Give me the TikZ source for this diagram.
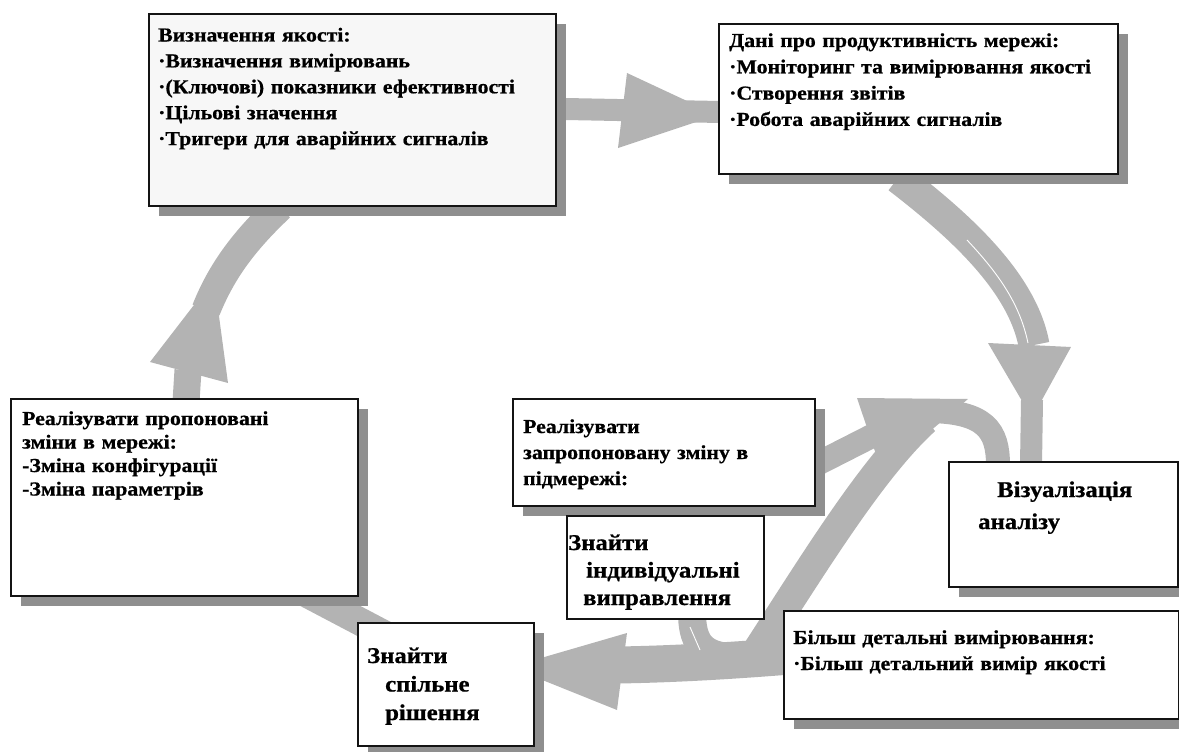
\documentclass[tikz,border=0pt]{standalone}
\usepackage{fontspec}
\newfontfamily\lblfont[FakeStretch=1.1, FakeBold=0.7]{Liberation Serif}
\usetikzlibrary{shadows}
\definecolor{band}{HTML}{B3B3B3}
\definecolor{shade}{HTML}{8F8F8F}
\definecolor{paper}{HTML}{F7F7F7}
\definecolor{ink}{HTML}{141414}

\begin{document}
\begin{tikzpicture}[x=1pt,y=-1pt,
  panel/.style={draw=ink, line width=1.8pt, fill=white, inner sep=0pt, anchor=north west},
  shadowed/.style={drop shadow={shadow xshift=10pt, shadow yshift=-10pt, fill=shade, opacity=1}},
  boxtext/.style={anchor=base west, inner sep=0pt, align=left, text width=420pt},
  linegap/.style={font=\fontsize{19.8}{#1}\lblfont\bfseries},
  biggap/.style={font=\fontsize{22.5}{#1}\lblfont\bfseries},
  flow/.style={draw=band, line width=#1, line cap=butt},
  headfill/.style={fill=band, draw=none},
  seam/.style={draw=white, line width=0.9pt},
]
\useasboundingbox (0,0) rectangle (1179,752);

% ---- broad grey flow bands (drawn first, boxes cover their ends) ----
% quality definition -> performance data
\draw[flow=22] (540,108.5) -- (720,112);
\fill[headfill] (627,73) -- (717,115) -- (618,148) -- cycle;
% performance data -> visual analysis
\draw[flow=31] (898,178) .. controls (955,222) and (1022,280) .. (1034,345);
\draw[seam] (967,240) .. controls (1000,275) and (1020,305) .. (1028,343);
\fill[headfill] (988,343) -- (1071,347) -- (1032,418) -- cycle;
\draw[flow=22] (1032,400) -- (1031,465);
% inner loop: visual analysis -> down to the bottom band
\draw[flow=30] (925,420) .. controls (870,470) and (810,570) .. (750,662);
% subnetwork change -> visual analysis
\draw[flow=24] (815,465) -- (872,436);
\fill[headfill] (857,398) -- (882,472) -- (968,399) -- cycle;
\draw[flow=24] (930,411) .. controls (985,412) and (998,430) .. (998,465);
% detailed measurements -> common solution
\draw[flow=37] (618,665) .. controls (680,664) and (740,660) .. (790,656);
\fill[headfill] (627,633) -- (510,667) -- (617,710) -- cycle;
% branch up to individual corrections
\draw[flow=28] (692,612) .. controls (692,640) and (700,655) .. (730,657);
\draw[seam] (690,627) -- (700,650);
% common solution -> network changes
\draw[flow=28] (395,640) -- (300,590);
% network changes -> quality definition
\draw[flow=27] (186,402) -- (188,370);
\fill[headfill] (150,362) -- (214,279) -- (228,383) -- cycle;
\draw[flow=29] (206,310) .. controls (222,270) and (245,240) .. (280,207);

% ---- boxes ----
\node[panel, shadowed, fill=paper, minimum width=407pt, minimum height=192pt] (quality) at (148,13) {};
\node[panel, shadowed, minimum width=399pt, minimum height=150pt] (perf) at (718,23) {};
\node[panel, shadowed, minimum width=347pt, minimum height=197pt] (netchange) at (10,398) {};
\node[panel, shadowed, minimum width=302pt, minimum height=107pt] (subchange) at (512,398) {};
\node[panel, minimum width=197pt, minimum height=103pt] (indiv) at (566,515) {};
\node[panel, shadowed, minimum width=229pt, minimum height=125pt] (visual) at (948,461) {};
\node[panel, shadowed, minimum width=395pt, minimum height=108pt] (detail) at (783,610) {};
\node[panel, shadowed, minimum width=176pt, minimum height=123pt] (common) at (357,622) {};

% ---- texts ----
\node[boxtext, linegap=25.9] (quality-t) at (158,41.5)
  {Визначення якості:\\·Визначення вимірювань\\·(Ключові) показники ефективності\\·Цільові значення\\·Тригери для аварійних сигналів};
\node[boxtext, linegap=26.3] (perf-t) at (729,47)
  {Дані про продуктивність мережі:\\·Моніторинг та вимірювання якості\\·Створення звітів\\·Робота аварійних сигналів};
\node[boxtext, linegap=23.5] (netchange-t) at (22,425)
  {Реалізувати пропоновані\\зміни в мережі:\\-Зміна конфігурації\\-Зміна параметрів};
\node[boxtext, linegap=26] (subchange-t) at (523,433)
  {Реалізувати\\запропоновану зміну в\\підмережі:};
\node[boxtext, biggap=27.5] (indiv-t) at (568,550)
  {Знайти\\\hspace*{18pt}індивідуальні\\\hspace*{15pt}виправлення};
\node[boxtext, biggap=32] (visual-t) at (978,497)
  {\hspace*{19pt}Візуалізація\\аналізу};
\node[boxtext, linegap=26] (detail-t) at (793,644)
  {Більш детальні вимірювання:\\·Більш детальний вимір якості};
\node[boxtext, biggap=28.5] (common-t) at (367,663)
  {Знайти\\\hspace*{18pt}спільне\\\hspace*{18pt}рішення};
\end{tikzpicture}
\end{document}
